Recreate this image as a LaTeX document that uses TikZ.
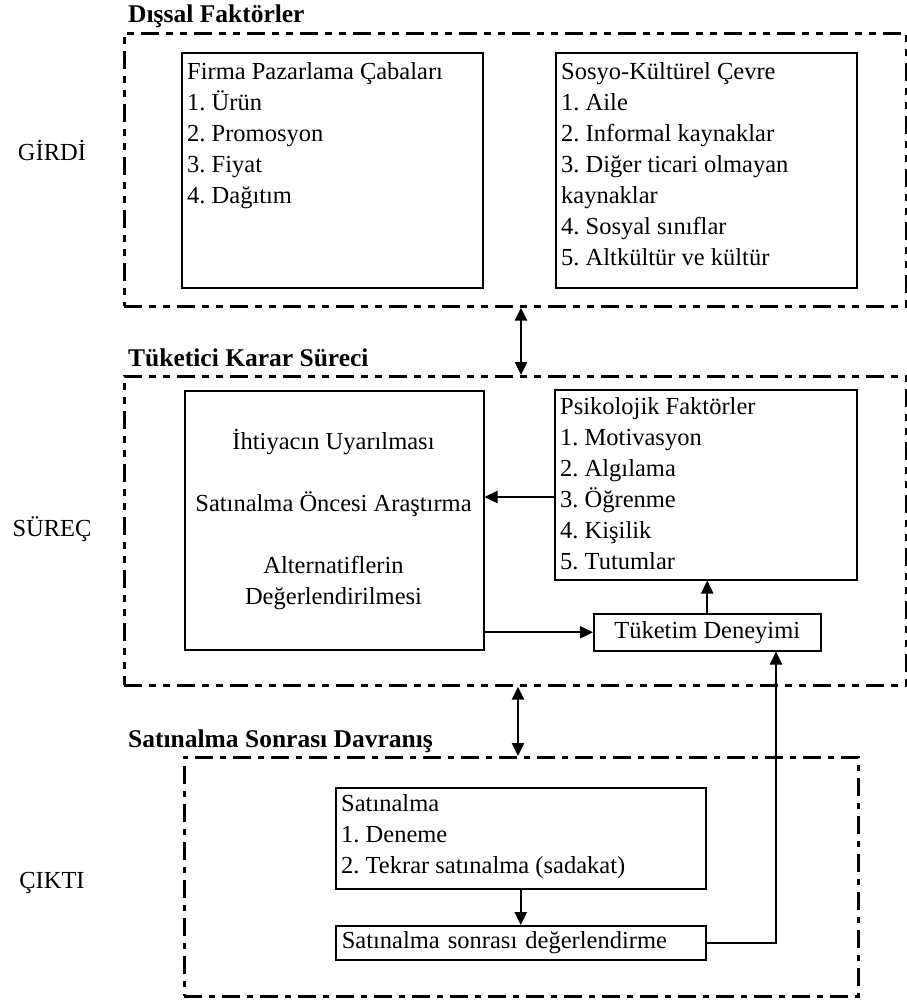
\documentclass[tikz,border=0pt]{standalone}
\usepackage{fontspec}
\setmainfont{Liberation Serif}
\usetikzlibrary{arrows.meta}
\frenchspacing
\begin{document}
\begin{tikzpicture}[x=1pt,y=-1pt,
  body/.style={font=\fontsize{24.5}{31}\selectfont},
  frameA/.style={draw, line width=2.6pt, inner sep=0pt, anchor=north west,
    dash pattern=on 18pt off 7pt on 7pt off 7pt on 7pt off 7pt},
  frameB/.style={draw, line width=2.6pt, inner sep=0pt, anchor=north west,
    dash pattern=on 18pt off 7pt on 6pt off 7pt},
  boxx/.style={draw, line width=1.5pt, inner sep=0pt, anchor=north west},
  lines/.style={body, inner sep=0pt, anchor=north west, align=left},
  heading/.style={font=\fontsize{25.5}{30}\selectfont\bfseries, inner sep=0pt, anchor=base west},
  side/.style={font=\fontsize{24.5}{30}\selectfont, inner sep=0pt, anchor=base},
  tip/.tip={Triangle[length=13pt,width=12pt]},
  conn/.style={line width=2.4pt, -tip},
  dconn/.style={line width=2.4pt, tip-tip},
]
\useasboundingbox (0,0) rectangle (907,1001);

% ---------- input: external factors ----------
\node[frameA, minimum width=782pt, minimum height=273pt] (f1) at (123,32) {};
\node[heading] (h1) at (128,22) {Dışsal Faktörler};
\node[side] (s1) at (52,160) {GİRDİ};

\node[boxx, minimum width=301pt, minimum height=235pt] (firma) at (181,52) {};
\node[lines] (firmaT) at (187,58) {\strut Firma Pazarlama Çabaları\\1. Ürün\\2. Promosyon\\3. Fiyat\\4. Dağıtım};

\node[boxx, minimum width=301pt, minimum height=235pt] (sosyo) at (555,52) {};
\node[lines] (sosyoT) at (561,58) {\strut Sosyo-Kültürel Çevre\\1. Aile\\2. Informal kaynaklar\\3. Diğer ticari olmayan\\kaynaklar\\4. Sosyal sınıflar\\5. Altkültür ve kültür};

% ---------- process: consumer decision ----------
\node[frameA, minimum width=782pt, minimum height=309pt] (f2) at (123,375) {};
\node[heading] (h2) at (128,366) {Tüketici Karar Süreci};
\node[side] (s2) at (52,536) {SÜREÇ};

\node[boxx, minimum width=299pt, minimum height=259pt] (karar) at (184,390) {};
\node[body, inner sep=0pt, anchor=north, align=center] (kararT) at (333.5,428)
  {\strut İhtiyacın Uyarılması\\[31pt]Satınalma Öncesi Araştırma\\[31pt]Alternatiflerin\\Değerlendirilmesi};

\node[boxx, minimum width=302pt, minimum height=190pt] (psi) at (554,389) {};
\node[lines] (psiT) at (560,393) {\strut Psikolojik Faktörler\\1. Motivasyon\\2. Algılama\\3. Öğrenme\\4. Kişilik\\5. Tutumlar};

\node[boxx, body, minimum width=227pt, minimum height=37pt] (tuk) at (593,613) {Tüketim Deneyimi};

% ---------- output: post-purchase behaviour ----------
\node[frameB, minimum width=674pt, minimum height=239pt] (f3) at (183,756) {};
\node[heading] (h3) at (128,747) {Satınalma Sonrası Davranış};
\node[side] (s3) at (52,888) {ÇIKTI};

\node[boxx, minimum width=370pt, minimum height=101pt] (sat) at (335,787) {};
\node[lines] (satT) at (341,790) {\strut Satınalma\\1. Deneme\\2. Tekrar satınalma (sadakat)};

\node[boxx, body, text width=358pt, inner xsep=6pt, minimum height=34pt, align=left] (sonra) at (335,925) {Satınalma sonrası değerlendirme};

% ---------- connectors ----------
\coordinate (m1) at (521,0);
\coordinate (m2) at (518,0);
\coordinate (m3) at (776,0);
\coordinate (a1) at (0,497);

\draw[dconn] (f1.south -| m1) -- (f2.north -| m1);
\draw[dconn] (f2.south -| m2) -- (f3.north -| m2);
\draw[conn] (psi.west |- a1) -- (karar.east |- a1);
\draw[conn] (karar.east |- tuk.west) -- (tuk.west);
\draw[conn] (tuk.north) -- (psi.south -| tuk.north);
\draw[conn] (sat.south) -- (sonra.north);
\draw[conn] (sonra.east) -| (m3 |- tuk.south);
\end{tikzpicture}
\end{document}
